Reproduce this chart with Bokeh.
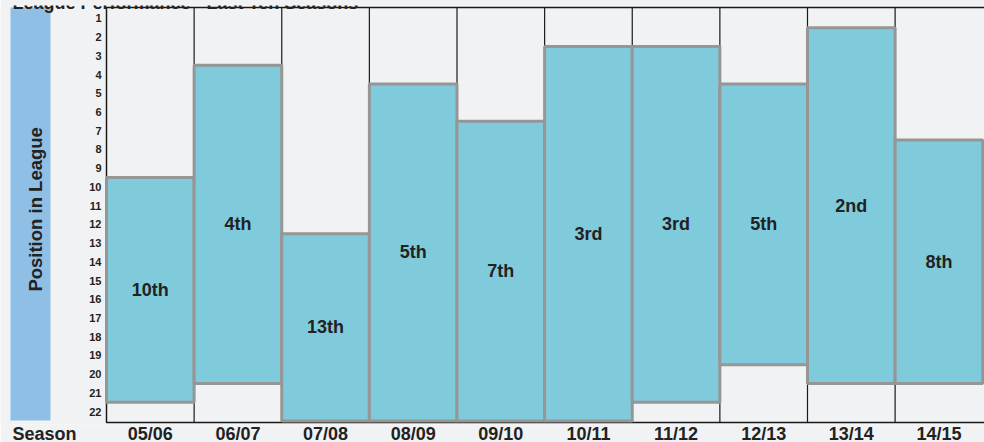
from bokeh.plotting import figure
from bokeh.models import (Range1d, FixedTicker, Label, LabelSet, ColumnDataSource)
from bokeh.core.properties import value
from bokeh.embed import file_html
from bokeh.resources import INLINE
import math

# ---- data ----
seasons = ["05/06", "06/07", "07/08", "08/09", "09/10",
           "10/11", "11/12", "12/13", "13/14", "14/15"]
final_position = [10, 4, 13, 5, 7, 3, 3, 5, 2, 8]
lowest_position = [21, 20, 22, 22, 22, 22, 21, 19, 20, 20]
position_labels = ["10th", "4th", "13th", "5th", "7th",
                   "3rd", "3rd", "5th", "2nd", "8th"]
y_ticks = list(range(1, 23))
title_text = "League Performance - Last Ten Seasons"
x_title = "Season"
y_title = "Position in League"

FONT = "Liberation Sans"
BG = "#f1f2f4"
TXT = "#222222"
LINE = "#1a1a1a"

# ---- layout helpers (pixel -> data along x) ----
COL_W = 878 / 10.02          # pixels per column
PLOT_LEFT_PX = 106           # page x of the first column's left edge
X_START = -0.5 - PLOT_LEFT_PX / COL_W
X_END = 9.52
Y_TOP, Y_BOT = 0.42, 22.58   # box limits in position units
PX_Y = 415 / (Y_BOT - Y_TOP)


def px_x(px):
    return X_START + px / COL_W


xs = list(range(len(seasons)))
tops = [f - 0.5 for f in final_position]
bottoms = [l + 0.5 for l in lowest_position]
mids = [(t + b) / 2 for t, b in zip(tops, bottoms)]
src = ColumnDataSource(dict(x=xs, top=tops, bottom=bottoms, mid=mids,
                            label=position_labels))

tick_src = ColumnDataSource(dict(y=y_ticks, text=[str(t) for t in y_ticks],
                                 x=[-0.5] * len(y_ticks)))

pad = 2 / PX_Y
p = figure(width=984, frame_height=419,
           x_range=Range1d(X_START, X_END), y_range=Range1d(Y_BOT + pad, Y_TOP - pad),
           output_backend="svg", toolbar_location=None, title=None,
           y_axis_location=None,
           min_border_left=0, min_border_right=0, min_border_top=18,
           min_border_bottom=20)
p.styles = {"margin-top": "-13px", "margin-bottom": "-40px"}

p.background_fill_color = BG
p.border_fill_color = BG
p.outline_line_color = None
p.xgrid.grid_line_color = None
p.ygrid.grid_line_color = None

# blue side panel
p.quad(left=[px_x(10)], right=[px_x(50)], top=[Y_TOP], bottom=[22.47],
       fill_color="#90bfe6", line_color=None)

# plot box and column separators
p.quad(left=[-0.5], right=[X_END + 0.2], top=[Y_TOP], bottom=[Y_BOT],
       fill_color=None, line_color=LINE, line_width=1.5)
bounds = [i + 0.5 for i in xs[:-1]]
p.segment(x0=bounds, x1=bounds, y0=[Y_TOP] * len(bounds), y1=[Y_BOT] * len(bounds),
          line_color=LINE, line_width=1.2)

# range bars
p.vbar(x="x", width=1.0, top="top", bottom="bottom", source=src,
       fill_color="#80cbdb", line_color="#969696", line_width=3)

p.add_layout(LabelSet(x="x", y="mid", text="label", source=src,
                      text_align="center", text_baseline="middle",
                      text_font=value(FONT), text_font_style="bold",
                      text_font_size="18px", text_color=TXT))

# y tick labels
p.add_layout(LabelSet(x="x", y="y", text="text", source=tick_src, x_offset=-5,
                      text_align="right", text_baseline="middle",
                      text_font=value(FONT), text_font_style="bold",
                      text_font_size="11px", text_color=TXT))

# x axis (the "Season" caption sits on the same line as the season labels)
season_x = px_x(44)
overrides = {i: s for i, s in zip(xs, seasons)}
overrides[season_x] = x_title
p.xaxis.ticker = FixedTicker(ticks=[season_x] + xs)
p.xaxis.major_label_overrides = overrides
p.xaxis.axis_line_color = None
p.xaxis.major_tick_line_color = None
p.xaxis.minor_tick_line_color = None
p.xaxis.major_label_text_font = FONT
p.xaxis.major_label_text_font_style = "bold"
p.xaxis.major_label_text_font_size = "18px"
p.xaxis.major_label_text_color = TXT
p.xaxis.major_label_standoff = -7

# other texts
p.add_layout(Label(x=px_x(34.5), y=11.2, text=y_title,
                   angle=math.pi / 2, text_align="center", text_baseline="middle",
                   text_font=FONT, text_font_style="bold", text_font_size="18.5px",
                   text_color=TXT))
p.add_layout(Label(x=px_x(12), y=0.2, text=title_text,
                   text_align="left", text_baseline="alphabetic",
                   text_font=FONT, text_font_style="bold", text_font_size="18px",
                   text_color=TXT))

open("out.html", "w").write(file_html(p, INLINE))
